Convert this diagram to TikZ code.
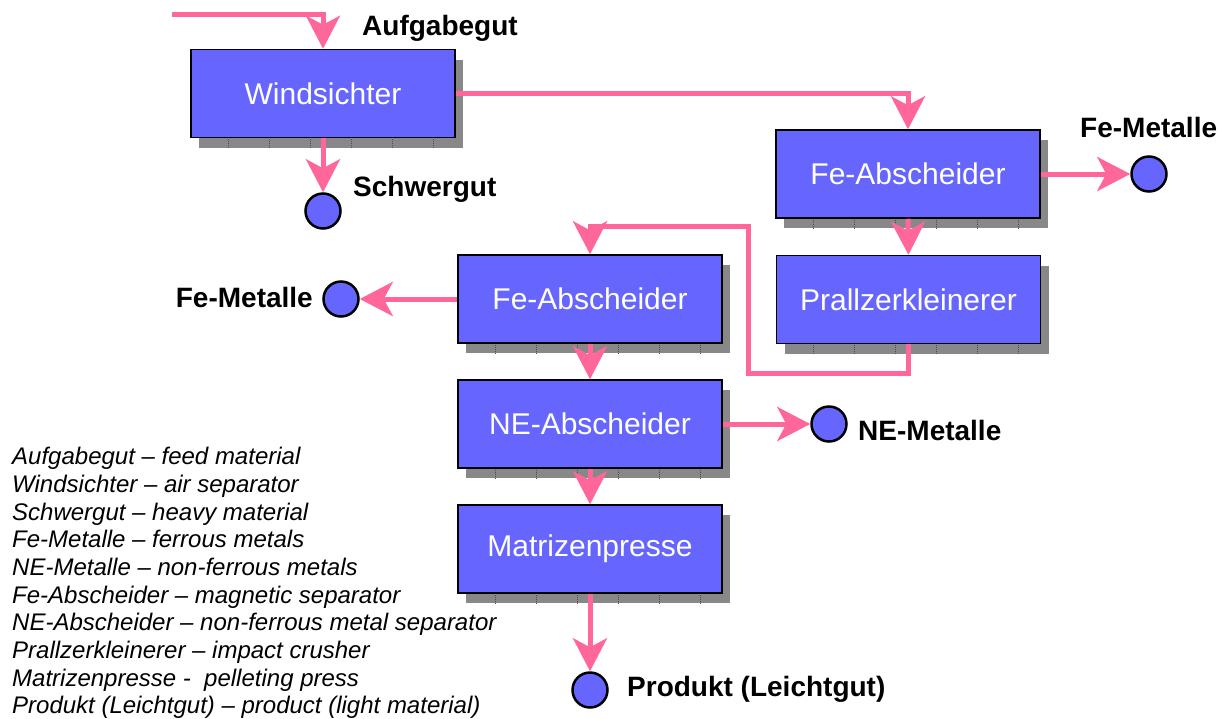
\documentclass[tikz,border=0pt]{standalone}
\usepackage{fontspec}
\setmainfont{Liberation Sans}
\usetikzlibrary{arrows.meta, shadows, calc}

\definecolor{boxblue}{HTML}{6666FF}
\definecolor{flowpink}{HTML}{FF6699}
\definecolor{shadowgray}{HTML}{888888}

\tikzset{
  unit/.style={draw=black, line width=1.5pt, fill=boxblue, text=white,
    minimum width=264pt, minimum height=88pt, inner sep=0pt,
    font=\fontsize{30}{36}\selectfont,
    drop shadow={shadow xshift=8pt, shadow yshift=-10pt, fill=shadowgray, opacity=1}},
  outlet/.style={circle, draw=black, line width=2.5pt, fill=boxblue,
    minimum size=35pt, inner sep=0pt},
  flow/.style={draw=flowpink, line width=5pt,
    -{Stealth[length=33pt, width=34pt, inset=9pt]}},
  tag/.style={font=\bfseries\fontsize{28}{34}\selectfont, inner sep=0pt},
  tick/.style={draw=black!70, line width=1pt, dash pattern=on 1pt off 1pt},
}

\begin{document}
\begin{tikzpicture}[x=1pt, y=-1pt]
        \useasboundingbox (0,0) rectangle (1226,718);

        % process units
        \node[unit] (wind) at (323, 93.5) {Windsichter};
        \node[unit] (feR) at (908, 174) {Fe-Abscheider};
        \node[unit] (prall) at (908.5, 299.5) {Prallzerkleinerer};
        \node[unit] (feL) at (590, 299) {Fe-Abscheider};
        \node[unit] (ne) at (590, 424) {NE-Abscheider};
        \node[unit] (matr) at (590, 549) {Matrizenpresse};

        \foreach \b in {wind, feR, prall, feL, ne, matr}
            \foreach \k in {1,...,6}
                \draw[tick] ($(\b.south west)+(\k*41-3, 1)$) -- ++(0, 9);

        % outlets
        \node[outlet] (schwer) at (323, 211) {};
        \node[outlet] (feMetR) at (1149, 174) {};
        \node[outlet] (feMetL) at (341, 299) {};
        \node[outlet] (neMet) at (829, 424) {};
        \node[outlet] (prod) at (590, 690) {};

        \node[tag, anchor=west] (lblFeed) at (362, 28) {Aufgabegut};
        \node[tag, anchor=west] (lblSchwer) at (353, 189) {Schwergut};
        \node[tag, anchor=west] (lblFeR) at (1080, 127) {Fe-Metalle};
        \node[tag, anchor=east] (lblFeL) at (313, 297) {Fe-Metalle};
        \node[tag, anchor=west] (lblNe) at (858, 430) {NE-Metalle};
        \node[tag, anchor=west] (lblProd) at (627, 689) {Produkt (Leichtgut)};

        % material flow
        \coordinate (feed) at (172, 14);
        \coordinate (loopA) at (748, 373);
        \coordinate (loopB) at (748, 226);

        \draw[flow] (feed) -| (wind.north);
        \draw[flow] (wind.south) -- (schwer.north);
        \draw[flow] (wind.east) -| (feR.north);
        \draw[flow] (feR.east) -- (feMetR.west);
        \draw[flow] (feR.south) -- (prall.north);
        \draw[flow] (prall.south) |- (loopA) -- (loopB) -| (feL.north);
        \draw[flow] (feL.west) -- (feMetL.east);
        \draw[flow] (feL.south) -- (ne.north);
        \draw[flow] (ne.east) -- (neMet.west);
        \draw[flow] (ne.south) -- (matr.north);
        \draw[flow] (matr.south) -- (prod.north);

        % legend
        \node[anchor=north west, align=left, inner sep=0pt,
              font=\itshape\fontsize{24}{27.7}\selectfont] (legend) at (12, 447)
            {Aufgabegut – feed material\\
             Windsichter – air separator\\
             Schwergut – heavy material\\
             Fe-Metalle – ferrous metals\\
             NE-Metalle – non-ferrous metals\\
             Fe-Abscheider – magnetic separator\\
             NE-Abscheider – non-ferrous metal separator\\
             Prallzerkleinerer – impact crusher\\
             Matrizenpresse -\ \ pelleting press\\
             Produkt (Leichtgut) – product (light material)};
    \end{tikzpicture}
\end{document}
